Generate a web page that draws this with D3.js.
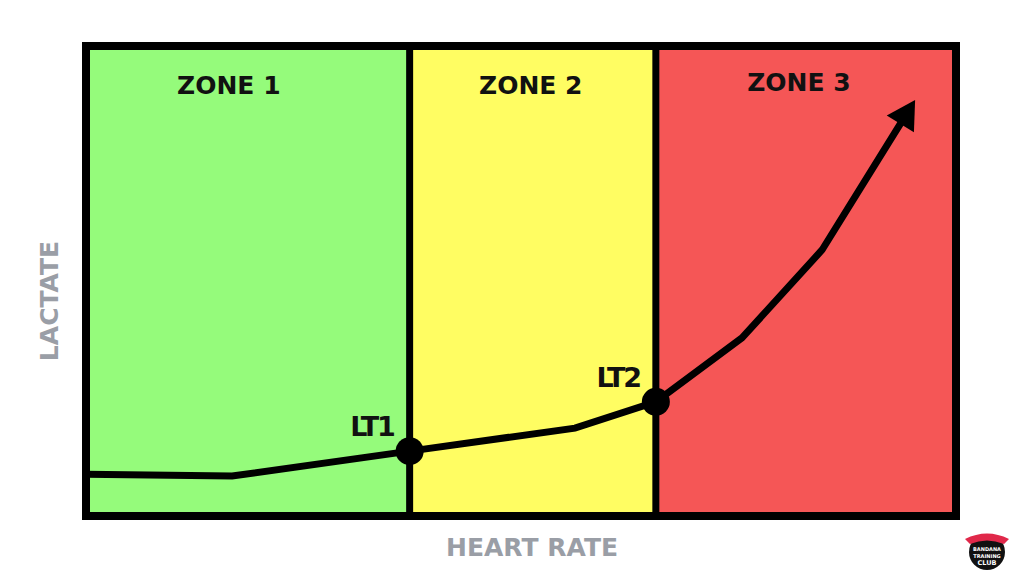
<!DOCTYPE html>
<html>
<head>
<meta charset="utf-8">
<script src="https://cdn.jsdelivr.net/npm/d3@7"></script>
<style>
  body { margin: 0; background: #fff; }
  svg { display: block; font-family: "DejaVu Sans", sans-serif; }
</style>
</head>
<body>
<div id="chart"></div>
<script>
// zones along heart rate (0-100 scale)
const zoneNames = ["ZONE 1", "ZONE 2", "ZONE 3"];
const zoneEdges = [0, 37.2, 65.5, 100];
const zoneColors = ["#95fb7b", "#fffd62", "#f55656"];

// lactate curve (last point = arrow tip)
const heartRate = [0, 16.8, 37.2, 56.2, 65.5, 75.4, 84.6, 95.3];
const lactate = [8.9, 8.5, 13.8, 18.7, 24.3, 37.9, 56.6, 88.5];

// thresholds
const thresholdNames = ["LT1", "LT2"];
const thresholdHR = [37.2, 65.5];
const thresholdLactate = [13.8, 24.3];

const w = 1024, h = 576;
const pLeft = 86, pRight = 956, pTop = 46, pBottom = 516;

const x = d3.scaleLinear().domain([0, 100]).range([pLeft, pRight]);
const y = d3.scaleLinear().domain([0, 100]).range([pBottom, pTop]);

const svg = d3.select("#chart").append("svg")
  .attr("width", w).attr("height", h);

// zone backgrounds
svg.selectAll("rect.zone")
  .data(zoneNames)
  .enter().append("rect")
  .attr("class", "zone")
  .attr("x", (d, i) => x(zoneEdges[i]))
  .attr("y", pTop)
  .attr("width", (d, i) => x(zoneEdges[i + 1]) - x(zoneEdges[i]))
  .attr("height", pBottom - pTop)
  .attr("fill", (d, i) => zoneColors[i]);

// zone titles (slightly off-centre like the original)
const nudge = [-19, -2, -7];
svg.selectAll("text.zone")
  .data(zoneNames)
  .enter().append("text")
  .attr("class", "zone")
  .attr("x", (d, i) => (x(zoneEdges[i]) + x(zoneEdges[i + 1])) / 2 + nudge[i])
  .attr("y", (d, i) => i == 2 ? 91 : 94)
  .attr("text-anchor", "middle")
  .attr("font-size", 25)
  .attr("font-weight", "bold")
  .attr("fill", "#111")
  .text(d => d);

// lactate line, stopped short of the tip to leave room for the head
const px = heartRate.map((d, i) => [x(d), y(lactate[i])]);
const tip = px[px.length - 1], prev = px[px.length - 2];
const len = Math.hypot(tip[0] - prev[0], tip[1] - prev[1]);
const ux = (tip[0] - prev[0]) / len, uy = (tip[1] - prev[1]) / len;
const headLen = 28, headW = 32;
const shaftEnd = [tip[0] - ux * headLen, tip[1] - uy * headLen];

svg.append("path")
  .datum(px.slice(0, -1).concat([[shaftEnd[0] + ux * 2, shaftEnd[1] + uy * 2]]))
  .attr("d", d3.line())
  .attr("fill", "none")
  .attr("stroke", "#000")
  .attr("stroke-width", 7)
  .attr("stroke-linejoin", "miter");

svg.append("path")
  .attr("d", d3.line()([
    tip,
    [shaftEnd[0] - uy * headW / 2, shaftEnd[1] + ux * headW / 2],
    [shaftEnd[0] + uy * headW / 2, shaftEnd[1] - ux * headW / 2]
  ]) + "Z")
  .attr("fill", "#000");

// zone dividers
svg.selectAll("line.divider")
  .data(zoneEdges.slice(1, -1))
  .enter().append("line")
  .attr("class", "divider")
  .attr("x1", d => x(d)).attr("x2", d => x(d))
  .attr("y1", pTop).attr("y2", pBottom)
  .attr("stroke", "#000")
  .attr("stroke-width", 7);

// frame
svg.append("rect")
  .attr("x", pLeft).attr("y", pTop)
  .attr("width", pRight - pLeft).attr("height", pBottom - pTop)
  .attr("fill", "none")
  .attr("stroke", "#000")
  .attr("stroke-width", 8);

// threshold dots + labels
svg.selectAll("circle.lt")
  .data(thresholdNames)
  .enter().append("circle")
  .attr("class", "lt")
  .attr("cx", (d, i) => x(thresholdHR[i]))
  .attr("cy", (d, i) => y(thresholdLactate[i]))
  .attr("r", 14)
  .attr("fill", "#000");

svg.selectAll("text.lt")
  .data(thresholdNames)
  .enter().append("text")
  .attr("class", "lt")
  .attr("x", (d, i) => x(thresholdHR[i]) - 16)
  .attr("y", (d, i) => y(thresholdLactate[i]) - 15)
  .attr("text-anchor", "end")
  .attr("font-size", 27)
  .attr("letter-spacing", -2.2)
  .attr("font-weight", "bold")
  .attr("fill", "#111")
  .text(d => d);

// axis titles
svg.append("text")
  .attr("x", 532).attr("y", 556)
  .attr("text-anchor", "middle")
  .attr("font-size", 25)
  .attr("font-weight", "bold")
  .attr("fill", "#9a9ea6")
  .text("HEART RATE");

svg.append("text")
  .attr("transform", "translate(58,301) rotate(-90)")
  .attr("text-anchor", "middle")
  .attr("font-size", 25)
  .attr("font-weight", "bold")
  .attr("fill", "#9a9ea6")
  .text("LACTATE");

// small club badge
const logo = svg.append("g").attr("transform", "translate(987,552)");
logo.append("circle").attr("r", 18).attr("fill", "#111");
logo.append("path")
  .attr("d", "M-22,-13 Q0,-24 22,-13 L17,-8 Q0,-15 -17,-8 Z")
  .attr("fill", "#e0284a");
logo.selectAll("text")
  .data(["BANDANA", "TRAINING", "CLUB"])
  .enter().append("text")
  .attr("y", (d, i) => -1 + i * 7)
  .attr("text-anchor", "middle")
  .attr("font-size", (d, i) => i == 2 ? 6.5 : 5)
  .attr("font-weight", "bold")
  .attr("fill", "#fff")
  .text(d => d);
</script>
</body>
</html>
